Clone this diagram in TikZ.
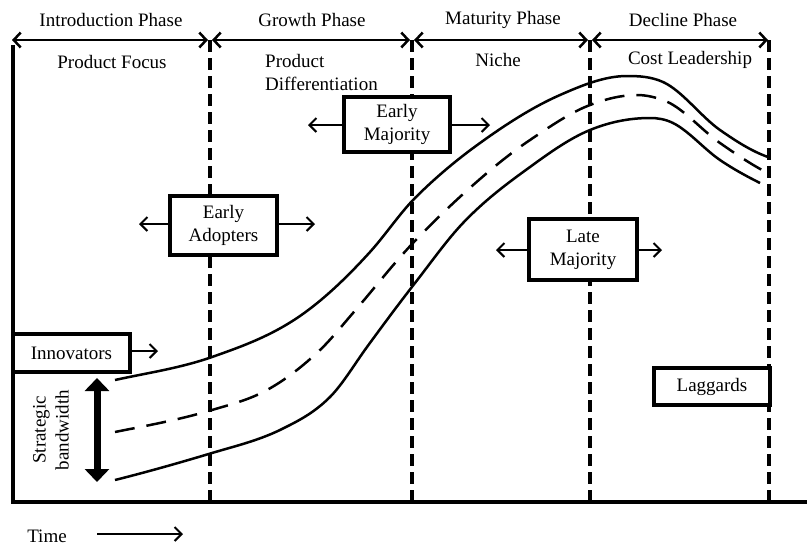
\documentclass[tikz,border=0pt]{standalone}
\usepackage{fontspec}
\setmainfont{Liberation Serif}
\usetikzlibrary{arrows.meta}
\begin{document}
\begin{tikzpicture}[x=1pt,y=-1pt,
  txt/.style={font=\fontsize{19}{23}\selectfont, inner sep=0pt},
  box/.style={draw, line width=4pt, fill=white, font=\fontsize{19}{23}\selectfont, align=center, inner sep=0pt},
  phasearrow/.style={line width=2.5pt, {Straight Barb[length=7pt,width=15pt]}-{Straight Barb[length=7pt,width=15pt]}},
  outarrow/.style={line width=2pt, -{Straight Barb[length=7pt,width=14pt]}},
  divider/.style={line width=4pt, dash pattern=on 12pt off 6pt},
  curve/.style={line width=2.5pt},
  dcurve/.style={line width=2.5pt, dash pattern=on 20pt off 12pt}
]
\useasboundingbox (0,0) rectangle (807,547);
% axes
\coordinate (axTop) at (13,45);
\coordinate (axOrig) at (13,502);
\coordinate (axEnd) at (807,502);
\draw[line width=4pt] (axTop) -- (axOrig) -- (axEnd);
% dividers
\foreach \n/\x in {d1/210,d2/412,d3/590,d4/769}{
  \coordinate (\n t) at (\x,40);
  \coordinate (\n b) at (\x,500);
  \draw[divider] (\n t) -- (\n b);
}
% phase arrows
\coordinate (p0) at (12,40);
\coordinate (p1l) at (208,40);
\coordinate (p1r) at (212,40);
\coordinate (p2l) at (410,40);
\coordinate (p2r) at (414,40);
\coordinate (p3l) at (588,40);
\coordinate (p3r) at (592,40);
\coordinate (p4) at (768,40);
\draw[phasearrow] (p0) -- (p1l);
\draw[phasearrow] (p1r) -- (p2l);
\draw[phasearrow] (p2r) -- (p3l);
\draw[phasearrow] (p3r) -- (p4);
% phase labels
\node[txt] (ph1) at (111,20) {Introduction Phase};
\node[txt] (ph2) at (312,20) {Growth Phase};
\node[txt] (ph3) at (503,20) {Maturity Phase};
\node[txt] (ph4) at (683,20) {Decline Phase};
\node[txt] (st1) at (112,62) {Product Focus};
\node[txt, anchor=west, align=left] (st2) at (265,72) {Product\\Differentiation};
\node[txt] (st3) at (498,60) {Niche};
\node[txt] (st4) at (690,60) {Cost Leadership};
% curves
\draw[curve] (115,380) .. controls (147.3,372.9) and (179.7,368.3) .. (212,357)
  .. controls (241.3,346.7) and (270.7,336.2) .. (300,316)
  .. controls (323.3,299.9) and (346.7,277.7) .. (370,252)
  .. controls (385,235.5) and (400,213) .. (415,198)
  .. controls (436.7,176.3) and (458.3,158.6) .. (480,143)
  .. controls (506.7,123.8) and (533.3,106.7) .. (560,95)
  .. controls (582.3,85.2) and (604.7,76) .. (627,76)
  .. controls (639,76) and (651,76.6) .. (663,82)
  .. controls (682,90.6) and (701,116.7) .. (720,130)
  .. controls (736,141.2) and (752,151.4) .. (768,157);
\draw[dcurve] (115,432) .. controls (147.3,425.5) and (179.7,419.7) .. (212,410)
  .. controls (230.3,404.5) and (248.7,400.1) .. (267,390)
  .. controls (284.7,380.3) and (302.3,366.8) .. (320,350)
  .. controls (331,339.55) and (342,325.65) .. (353,313)
  .. controls (373,290) and (393,264) .. (413,243)
  .. controls (437.7,217.1) and (462.3,194) .. (487,173)
  .. controls (501.3,160.8) and (515.7,149.6) .. (530,140)
  .. controls (550,126.6) and (570,112.6) .. (590,105)
  .. controls (605.7,99) and (621.3,95) .. (637,95)
  .. controls (645.7,95) and (654.3,97) .. (663,100)
  .. controls (682,106.65) and (701,129.7) .. (720,143)
  .. controls (734,152.8) and (748,162.3) .. (762,170);
\draw[curve] (115,480) .. controls (147.3,471.9) and (179.7,462.7) .. (212,453)
  .. controls (234.7,446.2) and (257.3,440.9) .. (280,430)
  .. controls (296.7,421.7) and (313.3,413.7) .. (330,397)
  .. controls (342.3,384.7) and (354.7,363.9) .. (367,347)
  .. controls (383,325.1) and (399,303.5) .. (415,283)
  .. controls (431,262.5) and (447,239.8) .. (463,223)
  .. controls (485.3,199.6) and (507.7,183.1) .. (530,167)
  .. controls (550,152.4) and (570,138.2) .. (590,130)
  .. controls (610,121.8) and (630,118) .. (650,118)
  .. controls (657.7,118) and (665.3,119.2) .. (673,123)
  .. controls (688.7,130.8) and (704.3,149.3) .. (720,160)
  .. controls (733.3,169.1) and (746.7,176.3) .. (760,183);
% boxes
\node[box, minimum width=117pt, minimum height=38pt] (inn) at (71.5,353) {Innovators};
\coordinate (innR) at (158,351);
\draw[outarrow] (inn.east |- innR) -- (innR);

\node[box, minimum width=107pt, minimum height=59pt] (ea) at (223.5,225) {Early\\Adopters};
\coordinate (eaL) at (139,224);
\coordinate (eaR) at (315,224);
\draw[outarrow] (ea.west |- eaL) -- (eaL);
\draw[outarrow] (ea.east |- eaR) -- (eaR);

\node[box, minimum width=106pt, minimum height=55pt] (em) at (397,124.5) {Early\\Majority};
\coordinate (emL) at (308,125);
\coordinate (emR) at (490,125);
\draw[outarrow] (em.west |- emL) -- (emL);
\draw[outarrow] (em.east |- emR) -- (emR);

\node[box, minimum width=108pt, minimum height=61pt] (lm) at (583,249.5) {Late\\Majority};
\coordinate (lmL) at (496,250);
\coordinate (lmR) at (662,250);
\draw[outarrow] (lm.west |- lmL) -- (lmL);
\draw[outarrow] (lm.east |- lmR) -- (lmR);

\node[box, minimum width=116pt, minimum height=37pt] (lag) at (712,386.5) {Laggards};
% strategic bandwidth
\coordinate (bwT) at (97,378);
\coordinate (bwB) at (97,482);
\draw[line width=7pt, {Triangle[length=13pt,width=24pt]}-{Triangle[length=13pt,width=24pt]}] (bwT) -- (bwB);
\node[txt, rotate=90, align=center] (bw) at (51,430) {Strategic\\bandwidth};
% time
\node[txt] (time) at (47,536) {Time};
\coordinate (tA) at (97,534);
\coordinate (tB) at (183,534);
\draw[outarrow] (tA) -- (tB);
\end{tikzpicture}
\end{document}
